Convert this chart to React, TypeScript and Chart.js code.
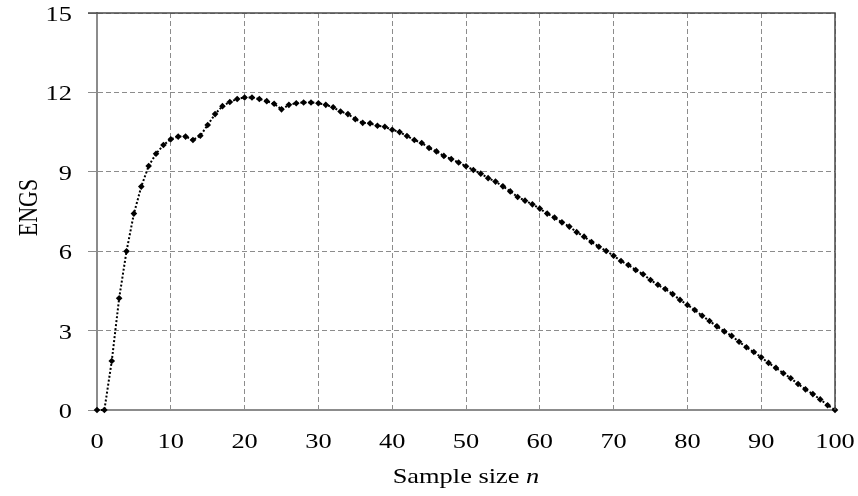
import React, { useEffect, useRef } from "react";
import { Chart, registerables } from "chart.js";

Chart.register(...registerables);

const sampleSizes: number[] = Array.from({ length: 101 }, (_, i) => i);
const engsValues: number[] = [
  0, 0, 1.85, 4.22, 6.0, 7.42, 8.44, 9.22, 9.68, 10.01,
  10.23, 10.33, 10.33, 10.2, 10.36, 10.77, 11.18, 11.48, 11.64, 11.75,
  11.81, 11.81, 11.75, 11.67, 11.57, 11.36, 11.53, 11.59, 11.62, 11.62,
  11.59, 11.53, 11.44, 11.28, 11.18, 10.99, 10.85, 10.83, 10.74, 10.7,
  10.59, 10.5, 10.35, 10.2, 10.09, 9.9, 9.77, 9.6, 9.48, 9.35,
  9.21, 9.07, 8.93, 8.76, 8.63, 8.45, 8.26, 8.05, 7.91, 7.77,
  7.61, 7.42, 7.27, 7.09, 6.93, 6.72, 6.55, 6.35, 6.17, 6.01,
  5.83, 5.63, 5.48, 5.29, 5.13, 4.91, 4.73, 4.57, 4.38, 4.16,
  3.97, 3.78, 3.56, 3.36, 3.16, 2.97, 2.8, 2.58, 2.37, 2.19,
  1.99, 1.78, 1.59, 1.39, 1.2, 0.98, 0.78, 0.6, 0.4, 0.18,
  0,
];
const xTicks: number[] = [0, 10, 20, 30, 40, 50, 60, 70, 80, 90, 100];
const yTicks: number[] = [0, 3, 6, 9, 12, 15];
const xTitle = "Sample size ";
const xTitleItalic = "n";
const yTitle = "ENGS";

const FONT = "'Liberation Serif', 'Times New Roman', serif";
const FS = 22;
const HS = 1.2; // horizontal stretch of the reference's text

const decorPlugin = {
  id: "decor",
  afterDraw(chart: any) {
    const { ctx, chartArea, scales } = chart;
    const { left, right, top, bottom } = chartArea;
    ctx.save();
    // right & top border
    ctx.strokeStyle = "#4a4a4a";
    ctx.lineWidth = 1.5;
    ctx.setLineDash([]);
    ctx.beginPath();
    ctx.moveTo(left - 9, top);
    ctx.lineTo(right, top);
    ctx.lineTo(right, bottom);
    ctx.stroke();

    ctx.fillStyle = "#000";
    ctx.textBaseline = "alphabetic";
    ctx.font = `${FS}px ${FONT}`;

    // x tick labels
    ctx.textAlign = "center";
    for (const v of xTicks) {
      const px = scales.x.getPixelForValue(v);
      ctx.save();
      ctx.translate(px, bottom + 38);
      ctx.scale(HS, 1);
      ctx.fillText(String(v), 0, 0);
      ctx.restore();
    }
    // y tick labels
    ctx.textAlign = "right";
    for (const v of yTicks) {
      const py = scales.y.getPixelForValue(v);
      ctx.save();
      ctx.translate(left - 25, py + 8);
      ctx.scale(HS, 1);
      ctx.fillText(String(v), 0, 0);
      ctx.restore();
    }

    // x title
    ctx.font = `${FS}px ${FONT}`;
    const w1 = ctx.measureText(xTitle).width;
    ctx.font = `italic ${FS}px ${FONT}`;
    const w2 = ctx.measureText(xTitleItalic).width;
    const cx = (left + right) / 2;
    ctx.save();
    ctx.translate(cx, 483);
    ctx.scale(HS, 1);
    const sx = -(w1 + w2) / 2;
    ctx.textAlign = "left";
    ctx.font = `${FS}px ${FONT}`;
    ctx.fillText(xTitle, sx, 0);
    ctx.font = `italic ${FS}px ${FONT}`;
    ctx.fillText(xTitleItalic, sx + w1, 0);
    ctx.restore();

    // y title
    ctx.save();
    ctx.translate(36.5, (top + bottom) / 2 - 4);
    ctx.scale(HS, 1);
    ctx.rotate(-Math.PI / 2);
    ctx.font = `${FS}px ${FONT}`;
    ctx.textAlign = "center";
    ctx.fillText(yTitle, 0, 0);
    ctx.restore();
    ctx.restore();
  },
};

export default function App() {
  const ref = useRef<HTMLCanvasElement | null>(null);
  useEffect(() => {
    if (!ref.current) return;
    const data = sampleSizes.map((x, i) => ({ x, y: engsValues[i] }));
    const chart = new Chart(ref.current, {
      type: "line",
      data: {
        datasets: [
          {
            data,
            borderColor: "#000",
            borderWidth: 2,
            borderDash: [2, 2],
            pointStyle: "rectRot",
            pointRadius: 3.3,
            pointBackgroundColor: "#000",
            pointBorderColor: "#000",
            pointBorderWidth: 0,
            tension: 0,
            clip: false,
          },
        ],
      },
      options: {
        animation: false,
        responsive: false,
        maintainAspectRatio: false,
        layout: { padding: { top: 13, right: 23, left: 0, bottom: 0 } },
        plugins: { legend: { display: false }, tooltip: { enabled: false } },
        scales: {
          x: {
            type: "linear",
            min: 0,
            max: 100,
            ticks: { stepSize: 10, display: false },
            grid: {
              color: "#8c8c8c",
              drawTicks: false,
              lineWidth: 1,
            },
            border: { display: true, color: "#8c8c8c", width: 2, dash: [5, 3] },
            afterFit(scale: any) {
              scale.height = 86;
              scale.paddingLeft = 0;
              scale.paddingRight = 0;
            },
          },
          y: {
            min: 0,
            max: 15,
            ticks: { stepSize: 3, display: false },
            grid: {
              color: "#8c8c8c",
              tickLength: 9,
              tickColor: "#8c8c8c",
              tickBorderDash: [],
              lineWidth: 1,
            },
            border: { display: true, color: "#8c8c8c", width: 2, dash: [5, 3] },
            afterFit(scale: any) {
              scale.width = 97;
              scale.paddingTop = 0;
              scale.paddingBottom = 0;
            },
          },
        },
      },
      plugins: [decorPlugin],
    } as any);
    return () => chart.destroy();
  }, []);
  return (
    <div style={{ position: "fixed", left: 0, top: 0, width: 858, height: 496, background: "#fff" }}>
      <canvas ref={ref} width={858} height={496} style={{ width: 858, height: 496 }} />
    </div>
  );
}
